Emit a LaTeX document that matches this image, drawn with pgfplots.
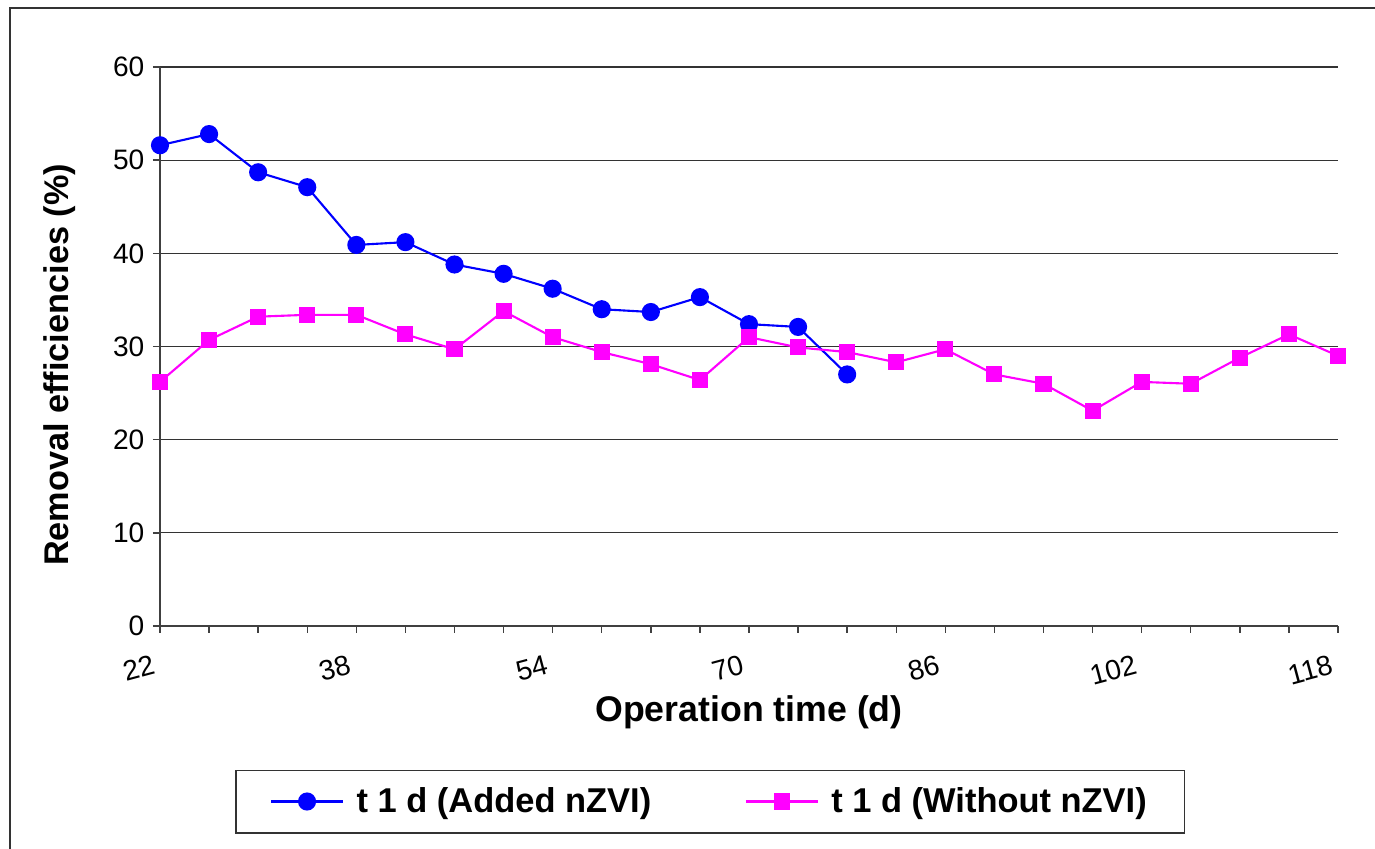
\documentclass[border=0pt]{standalone}
\usepackage{pgfplots}
\pgfplotsset{compat=1.18}
\usepackage{fontspec}
\setmainfont{Liberation Sans}
\definecolor{sblue}{RGB}{0,0,255}
\definecolor{smag}{RGB}{255,0,255}
\begin{document}
\begin{tikzpicture}
\useasboundingbox (0,0) rectangle (27.5cm,16.98cm);
\draw[black!80, line width=1.2pt] (0.2cm,-0.5cm) -- (0.2cm,16.82cm) -- (28cm,16.82cm);
\begin{axis}[
  at={(3.2cm,4.46cm)}, anchor=south west,
  scale only axis, width=23.56cm, height=11.18cm,
  xmin=22, xmax=118, ymin=0, ymax=60,
  clip=false,
  axis x line*=bottom, axis y line*=left,
  axis line style={black!75, line width=0.8pt},
  xtick={22,38,...,118},
  xticklabels={22,38,54,70,86,102,118},
  minor xtick={22,26,...,118},
  ytick={0,10,...,60},
  tick align=outside, major tick length=0.14cm, minor tick length=0.14cm,
  tick style={black!75, line width=0.8pt},
  ymajorgrids, grid style={black!80, line width=0.7pt},
  /pgf/number format/assume math mode=true,
  ticklabel style={font=\fontsize{16}{18}\selectfont},
  xticklabel style={rotate=15, anchor=north east, yshift=-0.25cm, xshift=-0.15cm},
  yticklabel style={xshift=-0.05cm},
  xlabel={\textbf{Operation time (d)}},
  ylabel={\textbf{Removal efficiencies (\%)}},
  label style={font=\fontsize{20.3}{23}\selectfont},
  xlabel style={at={(axis description cs:0.5,-0.154)}, anchor=center},
  ylabel style={at={(axis description cs:-0.085,0.467)}, anchor=center, rotate=0, font=\fontsize{19.5}{22}\selectfont},
  legend columns=2,
  legend style={at={(0.467,-0.314)}, anchor=center, draw=black!80, line width=0.8pt,
    font=\bfseries\fontsize{19.6}{23}\selectfont, inner xsep=0.68cm, inner ysep=0.28cm,
    /tikz/every odd column/.append style={column sep=0.18cm},
    /tikz/every even column/.append style={column sep=1.8cm}},
  legend image code/.code={%
    \draw[mark repeat=2,mark phase=2,#1] plot coordinates {(0cm,0cm) (0.72cm,0cm) (1.44cm,0cm)};},
]
\addplot[color=sblue, line width=1.2pt, mark=*, mark size=0.16cm, mark options={fill=sblue, solid}] coordinates {
(22,51.6) (26,52.8) (30,48.7) (34,47.1) (38,40.9) (42,41.2) (46,38.8) (50,37.8)
(54,36.2) (58,34.0) (62,33.7) (66,35.3) (70,32.4) (74,32.1) (78,27.0)};
\addlegendentry{t 1 d (Added nZVI)}
\addplot[color=smag, line width=1.2pt, mark=square*, mark size=0.14cm, mark options={fill=smag, solid}] coordinates {
(22,26.2) (26,30.7) (30,33.2) (34,33.4) (38,33.4) (42,31.3) (46,29.7) (50,33.8)
(54,31.0) (58,29.4) (62,28.1) (66,26.4) (70,31.0) (74,29.9) (78,29.4) (82,28.3)
(86,29.7) (90,27.0) (94,26.0) (98,23.1) (102,26.2) (106,26.0) (110,28.8) (114,31.3) (118,29.0)};
\addlegendentry{t 1 d (Without nZVI)}
\end{axis}
\end{tikzpicture}
\end{document}
